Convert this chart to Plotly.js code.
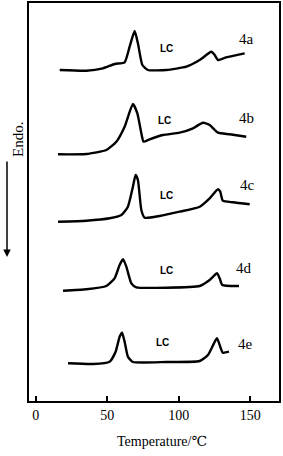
<!DOCTYPE html>
<html>
<head>
<meta charset="utf-8">
<script src="https://cdn.plot.ly/plotly-3.0.1.min.js"></script>
<style>html,body{margin:0;padding:0;background:#fff;}#chart{width:283px;height:456px;}</style>
</head>
<body>
<div id="chart"></div>
<script>
// DSC curves (temperature in °C, endothermic signal in arbitrary units, offset per sample)
const t4a = [16.8, 35.4, 47, 55.3, 62.2, 65.7, 69.2, 71.5, 74.6, 78.5, 91.4, 105.4, 114.7, 122.9, 125.2, 127.5, 133.3, 146.2];
const y4a = [331, 330.3, 332.7, 337, 338.7, 354.3, 370, 357.7, 336, 331, 331, 334.3, 341, 349.3, 346, 341, 343.7, 347.7];

const t4b = [15.6, 35.4, 49.4, 56.4, 62.2, 68, 71.1, 73.9, 75.5, 79.7, 89, 100.7, 110, 117, 121.7, 127.5, 135.7, 147.3];
const y4b = [246.7, 247, 251, 259.3, 274.3, 297, 287.7, 267.7, 259.3, 261.7, 266, 268.3, 272.7, 278.3, 276, 268.3, 266.7, 264.3];

const t4c = [15.6, 35.4, 51.7, 59.9, 64.5, 68, 69.9, 71.5, 73.9, 76.2, 86.7, 100.7, 114.7, 121.7, 127.5, 129.1, 130.9, 138, 149.7];
const y4c = [179.3, 180.3, 182.7, 186, 194.3, 214.3, 226, 221, 191, 183.3, 185, 189.3, 194.3, 202.7, 211.7, 209.3, 200.3, 198.7, 196.7];

const t4d = [19.1, 35.4, 49.4, 55.2, 58.7, 61.1, 63.4, 66.9, 70.4, 91.4, 114.7, 121.7, 126.8, 128.7, 130.5, 142.2];
const y4d = [110.3, 111.7, 115, 122.7, 136, 141.7, 134.3, 117.7, 113.7, 113.3, 115, 121, 127.7, 122.7, 116, 115];

const t4e = [22.6, 40.1, 51.7, 55.9, 58.7, 60.4, 62.2, 64.5, 68, 91.4, 114.7, 120.5, 124.7, 126.8, 129.1, 130.9, 135.2];
const y4e = [37.7, 37, 39.3, 49.3, 64.3, 68.3, 59.3, 44.3, 39, 39, 40, 46, 57.7, 62.7, 54.3, 48.3, 49.3];

// Sample labels and "LC" phase labels
const sampleNames = ["4a", "4b", "4c", "4d", "4e"];
const sampleLabelT = [147.4, 147.4, 148.4, 146, 146.7];
const sampleLabelY = [362, 283, 216, 132.7, 56.7];
const lcText = "LC";
const lcT = [91.6, 90.2, 91.4, 91.4, 89];
const lcY = [353, 280.3, 206, 131, 58.3];

const xTicks = [0, 50, 100, 150];
const xTitle = "Temperature/℃";
const yTitle = "Endo.";

const series = [[t4a, y4a], [t4b, y4b], [t4c, y4c], [t4d, y4d], [t4e, y4e]];
const traces = series.map(function (s, i) {
  return {
    x: s[0], y: s[1], type: "scatter", mode: "lines",
    name: sampleNames[i],
    line: { color: "#000", width: 2.4, shape: "spline", smoothing: 0.5 },
    hoverinfo: "skip"
  };
});

const serif = "'Liberation Serif', 'DejaVu Serif', serif";
const annotations = [];
sampleNames.forEach(function (n, i) {
  annotations.push({ x: sampleLabelT[i], y: sampleLabelY[i], xref: "x", yref: "y", text: n,
    showarrow: false, font: { family: serif, size: 15, color: "#000" } });
  annotations.push({ x: lcT[i], y: lcY[i], xref: "x", yref: "y", text: lcText,
    showarrow: false, font: { family: "'Liberation Sans', Arial, sans-serif", size: 10, color: "#000", weight: "bold" } });
});
annotations.push({ x: -0.084, y: 0.705, xref: "paper", yref: "paper", text: yTitle, textangle: -90,
  showarrow: false, font: { family: serif, size: 15, color: "#000" } });
annotations.push({ x: 0.531, y: -0.103, xref: "paper", yref: "paper", text: xTitle,
  showarrow: false, yanchor: "middle", font: { family: serif, size: 14, color: "#000" } });
// downward arrow next to "Endo."
annotations.push({ x: -0.088, y: 0.362, xref: "paper", yref: "paper", ax: 0, ay: -97,
  axref: "pixel", ayref: "pixel", text: "", showarrow: true, arrowhead: 2, arrowsize: 1,
  arrowwidth: 1.5, arrowcolor: "#000" });

const layout = {
  width: 283, height: 456,
  margin: { l: 29, r: 4, t: 3, b: 55 },
  paper_bgcolor: "#fff", plot_bgcolor: "#fff",
  showlegend: false,
  xaxis: {
    range: [-4.7, 170.2], tickvals: xTicks, ticktext: xTicks.map(String),
    ticks: "inside", ticklen: 5, tickwidth: 2, tickcolor: "#000",
    showline: true, linecolor: "#000", linewidth: 2, mirror: true,
    showgrid: false, zeroline: false,
    tickfont: { family: serif, size: 14, color: "#000" }
  },
  yaxis: {
    range: [0, 398], showticklabels: false, ticks: "",
    showline: true, linecolor: "#000", linewidth: 2, mirror: true,
    showgrid: false, zeroline: false
  },
  annotations: annotations
};

Plotly.newPlot("chart", traces, layout, { staticPlot: true, displayModeBar: false });
</script>
</body>
</html>
